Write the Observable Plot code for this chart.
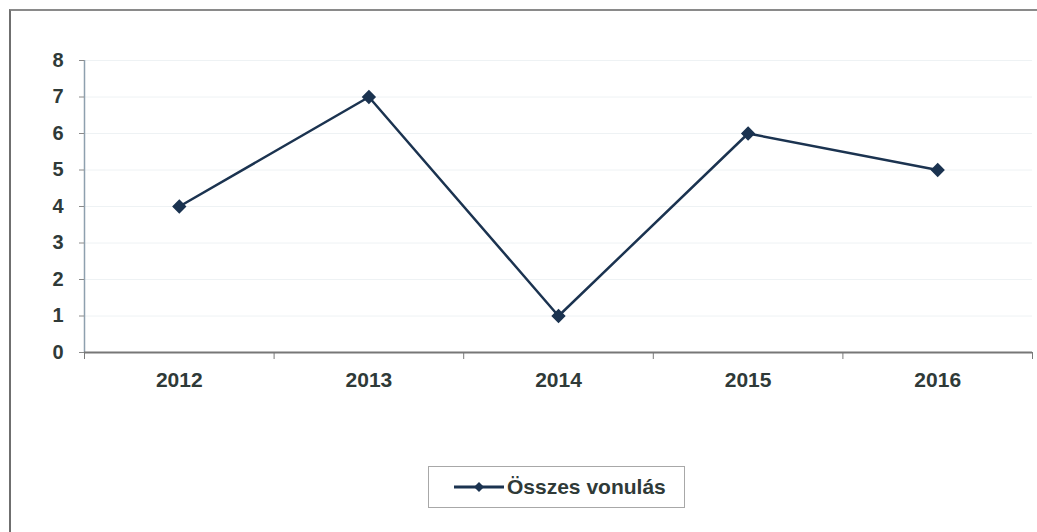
<!DOCTYPE html>
<html>
<head>
<meta charset="utf-8">
<script src="https://cdn.jsdelivr.net/npm/d3@7"></script>
<script src="https://cdn.jsdelivr.net/npm/@observablehq/plot@0.6"></script>
<style>
  html, body { margin: 0; padding: 0; background: #fff; width: 1037px; height: 532px; overflow: hidden; }
  #frame { position: absolute; left: 9px; top: 9px; width: 1040px; height: 540px; border: 2px solid #8a8a8a; border-left-color: #6f6f6f; }
  #chart { position: absolute; left: 0; top: 0; }
  #legend { position: absolute; left: 417px; top: 455px; width: 255px; height: 40px; border: 1px solid #a8a8a8;
            display: flex; align-items: center; font-family: "Liberation Sans", Arial, sans-serif; font-weight: bold;
            font-size: 21px; color: #2f3a38; }
  #legend svg { margin-left: 24px; margin-right: 2px; }
</style>
</head>
<body>
<div id="frame">
  <div id="chart"></div>
  <div id="legend"></div>
</div>
<script>
const years = ["2012", "2013", "2014", "2015", "2016"];
const values = [4, 7, 1, 6, 5];
const yTicks = [0, 1, 2, 3, 4, 5, 6, 7, 8];
const seriesName = "Összes vonulás";

const lineColor = "#1b3350";
const data = years.map((y, i) => ({i, year: y, value: values[i]}));
const bounds = d3.range(years.length + 1).map(k => k - 0.5);

const chart = Plot.plot({
  width: 1022,
  height: 382,
  marginLeft: 73,
  marginRight: 1,
  marginTop: 49,
  marginBottom: 41,
  style: {fontFamily: "'Liberation Sans', Arial, sans-serif", fontWeight: "bold", fontSize: "21px", color: "#2f3a38", background: "transparent"},
  x: {type: "linear", domain: [-0.5, years.length - 0.5], label: null},
  y: {domain: [0, 8], label: null},
  marks: [
    Plot.gridY(yTicks.slice(1), {stroke: "#eef2f4", strokeOpacity: 1}),
    Plot.ruleX([-0.5], {y1: 0, y2: 8, stroke: "#8ea0ae", strokeWidth: 1.5}),
    Plot.axisY(yTicks, {tickSize: 5, tickPadding: 16, stroke: "#8a8a8a", tickFormat: d => d, fontSize: 20, label: null}),
    Plot.axisX(bounds, {tickSize: 7, tickFormat: () => "", stroke: "#7a7a7a", label: null}),
    Plot.axisX(d3.range(years.length), {tickSize: 0, tickPadding: 20, tickFormat: i => years[i], label: null}),
    Plot.ruleY([0], {stroke: "#777", strokeWidth: 2}),
    Plot.line(data, {x: "i", y: "value", stroke: lineColor, strokeWidth: 2.5}),
    Plot.dot(data, {x: "i", y: "value", symbol: "diamond2", r: 5.5, fill: lineColor, stroke: lineColor})
  ]
});
document.getElementById("chart").appendChild(chart);

const legend = document.getElementById("legend");
legend.innerHTML = `<svg width="52" height="16"><line x1="1" y1="8" x2="51" y2="8" stroke="${lineColor}" stroke-width="3"/><path d="M26 3 L31 8 L26 13 L21 8 Z" fill="${lineColor}"/></svg><span>${seriesName}</span>`;
</script>
</body>
</html>
